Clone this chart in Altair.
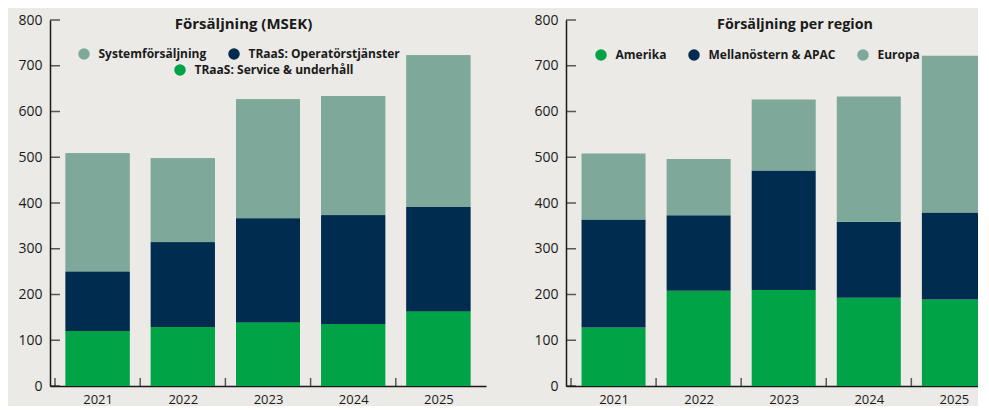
import altair as alt
import pandas as pd

# ---------------- data ----------------
years = [2021, 2022, 2023, 2024, 2025]
y_ticks = [0, 100, 200, 300, 400, 500, 600, 700, 800]

left_title = "Försäljning (MSEK)"
left_segments = ["Systemförsäljning", "TRaaS: Operatörstjänster", "TRaaS: Service & underhåll"]
systemforsaljning = [259, 184, 261, 261, 332]
operatorstjanster = [130, 185, 227, 238, 228]
service_underhall = [120, 129, 139, 135, 163]

right_title = "Försäljning per region"
right_segments = ["Amerika", "Mellanöstern & APAC", "Europa"]
amerika = [128, 208, 210, 193, 189]
mellanostern_apac = [236, 165, 261, 166, 190]
europa = [144, 123, 155, 274, 343]

# ---------------- style ----------------
TEAL = "#7da89a"
NAVY = "#002d4f"
GREEN = "#00a346"
INK = "#1a1a1a"
BG = "#ebeae6"
FONT = "Open Sans"
STEP = 87.2      # px per year
BAR = 64         # bar width px
W = 436          # left panel width (5 years)
WR = 412         # right panel visible width (last bar is cut, as in the reference)
H = 366
AXW = 40         # y-axis extent
GAP = 40


def long_df(segments, series, stack_idx):
    rows = []
    for seg, vals, idx in zip(segments, series, stack_idx):
        for yr, v in zip(years, vals):
            rows.append({"year": yr, "segment": seg, "value": v, "idx": idx})
    return pd.DataFrame(rows)


def x_scale(width):
    lo = years[0] - 0.5
    return alt.Scale(domain=[lo, lo + width / STEP], nice=False, zero=False)


def x_axis(domain=True):
    return alt.Axis(values=years, format="d", title=None, ticks=False,
                    grid=False, domain=domain, domainColor=INK,
                    domainWidth=1.5, labelFont=FONT, labelFontSize=13,
                    labelColor=INK, labelPadding=7, labelAngle=0,
                    labelFlush=False, labelOverlap=False)


Y_AXIS = alt.Axis(values=y_ticks, title=None, grid=False, ticks=False,
                  domainColor=INK, domainWidth=1.5, labelFont=FONT,
                  labelFontSize=14, labelColor=INK, labelPadding=8,
                  minExtent=AXW, maxExtent=AXW)
Y_SCALE = alt.Scale(domain=[0, 800], nice=False, zero=True)


def legend(values, lx, ly):
    return alt.Legend(
        values=values, orient="none", legendX=lx, legendY=ly,
        direction="horizontal", title=None, symbolType="circle",
        symbolSize=133, symbolStrokeWidth=0, symbolOpacity=1,
        labelFont=FONT, labelFontSize=12, labelFontWeight="bold",
        labelColor=INK, labelOffset=8.5, columnPadding=21, padding=0,
        labelLimit=400,
    )


def bars(df, segments, colors, leg, xs, xa):
    return alt.Chart(df).mark_bar(width=BAR, clip=True).encode(
        x=alt.X("year:Q", scale=xs, axis=xa),
        y=alt.Y("value:Q", stack="zero", scale=Y_SCALE, axis=Y_AXIS),
        color=alt.Color("segment:N",
                        scale=alt.Scale(domain=segments, range=colors),
                        legend=leg),
        order=alt.Order("idx:Q", sort="ascending"),
    )


def axis_ticks(xs, xa):
    yt = alt.Chart(pd.DataFrame({"tv": y_ticks})).mark_tick(
        orient="horizontal", size=10, thickness=1.5, color=INK
    ).encode(y=alt.Y("tv:Q", scale=Y_SCALE, axis=Y_AXIS), x=alt.value(5))
    bounds = [y - 0.5 for y in years]
    xt = alt.Chart(pd.DataFrame({"year": bounds})).mark_tick(
        orient="vertical", size=8, thickness=1.5, color=INK
    ).encode(x=alt.X("year:Q", scale=xs, axis=xa), y=alt.value(H - 4))
    return yt, xt


def title_mark(text, cx, cy, size):
    return alt.Chart(pd.DataFrame({"t": [text]})).mark_text(
        font=FONT, fontSize=size, fontWeight="bold", color=INK,
        align="center", baseline="middle",
    ).encode(x=alt.value(cx), y=alt.value(cy), text=alt.Text("t:N"))


# ---------------- left panel ----------------
ldf = long_df(left_segments,
              [systemforsaljning, operatorstjanster, service_underhall],
              [2, 1, 0])
lcolors = [TEAL, NAVY, GREEN]
lxs, lxa = x_scale(W), x_axis(True)
l_bars1 = bars(ldf, left_segments, lcolors,
               legend(left_segments[:2], 28, 28), lxs, lxa)
l_bars2 = bars(ldf, left_segments, lcolors,
               legend(left_segments[2:], 124, 44), lxs, lxa)
l_yt, l_xt = axis_ticks(lxs, lxa)
left = alt.layer(
    l_bars1, l_bars2, l_yt, l_xt, title_mark(left_title, 193.5, 4, 15)
).resolve_scale(color="independent").properties(width=W, height=H)

# ---------------- right panel ----------------
R0 = W + GAP + AXW   # right plot origin, relative to the left plot origin
rdf = long_df(right_segments, [amerika, mellanostern_apac, europa], [0, 1, 2])
rcolors = [GREEN, NAVY, TEAL]
rxs, rxa = x_scale(WR), x_axis(True)
r_bars = bars(rdf, right_segments, rcolors,
              legend(right_segments, R0 + 29, 29), rxs, rxa)
r_yt, r_xt = axis_ticks(rxs, rxa)
right = alt.layer(
    r_bars, r_yt, r_xt, title_mark(right_title, 229, 5, 14.3)
).properties(width=WR, height=H)

chart = alt.hconcat(left, right, spacing=GAP).properties(
    padding={"left": 2, "top": 5, "right": 0, "bottom": 0}
).configure(background=BG).configure_view(stroke=None)

chart.save("out.html", embed_options={"renderer": "svg", "actions": False})
